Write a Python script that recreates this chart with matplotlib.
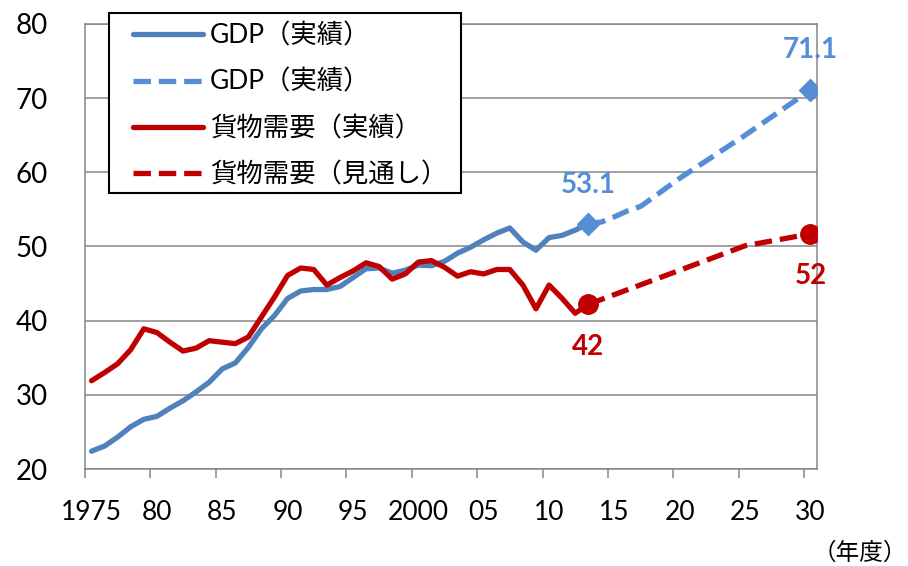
import matplotlib.pyplot as plt
from matplotlib.lines import Line2D
from matplotlib.patches import Rectangle

plt.rcParams['font.family'] = ['Lato', 'Noto Sans CJK JP', 'DejaVu Sans']

# actual values (FY1975-2013)
years = list(range(1975, 2014))
gdp = [22.4, 23.1, 24.3, 25.7, 26.7, 27.1, 28.2, 29.2, 30.4, 31.7,
       33.5, 34.3, 36.4, 38.9, 40.7, 43.0, 44.0, 44.2, 44.2, 44.6,
       45.8, 47.0, 47.1, 46.4, 46.8, 47.5, 47.4, 48.0, 49.1, 49.9,
       50.9, 51.8, 52.5, 50.6, 49.5, 51.2, 51.5, 52.2, 53.1]
freight = [31.9, 33.0, 34.2, 36.1, 38.9, 38.4, 37.1, 35.9, 36.3, 37.3,
           37.1, 36.9, 37.8, 40.5, 43.2, 46.1, 47.1, 46.9, 44.8, 45.8,
           46.7, 47.8, 47.3, 45.6, 46.3, 47.9, 48.1, 47.2, 46.0, 46.6,
           46.3, 46.9, 46.9, 44.8, 41.6, 44.8, 43.0, 41.0, 42.2]

# outlook
gdp_yrs = [2013, 2014, 2015, 2016, 2017, 2020, 2025, 2030]
gdp_proj = [53.1, 53.3, 54.0, 54.8, 55.4, 59.2, 65.0, 71.1]
fr_yrs = [2013, 2020, 2025, 2030]
fr_proj = [42.2, 46.8, 50.1, 51.7]

labels = ['GDP（実績）', 'GDP（実績）', '貨物需要（実績）', '貨物需要（見通し）']
tick_labels = ['1975', '80', '85', '90', '95', '2000', '05', '10', '15', '20', '25', '30']

BLUE = '#4F81BD'
LBLUE = '#558ED5'
RED = '#C00000'
GRAY = '#868686'
DASH = (0, (3.3, 1.5))
LW = 3.8

fig = plt.figure(figsize=(9.08, 5.66), dpi=100)
ax = fig.add_axes([85 / 908, 1 - 469 / 566, (817 - 85) / 908, (469 - 24) / 566])

ax.plot(years, gdp, color=BLUE, lw=LW, solid_capstyle='round', zorder=3)
ax.plot(years, freight, color=RED, lw=LW, solid_capstyle='round', zorder=3)
ax.plot(gdp_yrs, gdp_proj, color=LBLUE, lw=LW, ls=DASH, zorder=3)
ax.plot(fr_yrs, fr_proj, color=RED, lw=LW, ls=DASH, zorder=3)
ax.plot([gdp_yrs[0], gdp_yrs[-1]], [gdp_proj[0], gdp_proj[-1]], 'D',
        color=LBLUE, ms=11, zorder=4)
ax.plot([fr_yrs[0], fr_yrs[-1]], [fr_proj[0], fr_proj[-1]], 'o',
        color=RED, ms=14, zorder=4)

lab = dict(fontsize=20, fontweight='bold', ha='center', va='center')
ax.text(gdp_yrs[0], 58.3, '53.1', color=LBLUE, **lab)
ax.text(gdp_yrs[-1], 76.5, '71.1', color=LBLUE, **lab)
ax.text(fr_yrs[0], 36.5, '42', color=RED, **lab)
ax.text(fr_yrs[-1], 46.0, '52', color=RED, **lab)

ax.set_xlim(1974.5, 2030.5)
ax.set_ylim(20, 80)
ax.set_yticks(range(20, 81, 10))
ax.yaxis.grid(True, color=GRAY, lw=1.1)
ax.set_axisbelow(True)
ax.tick_params(axis='y', length=0, labelsize=20, pad=27)

ax.set_xticks([1974.5 + 5 * k for k in range(12)])
ax.set_xticklabels([])
ax.set_xticks(list(range(1975, 2031, 5)), minor=True)
ax.set_xticklabels(tick_labels, minor=True)
ax.tick_params(axis='x', which='major', length=6.5, width=1.1, color=GRAY)
ax.tick_params(axis='x', which='minor', length=0, labelsize=19, pad=22)

for s in ax.spines.values():
    s.set_color(GRAY)
    s.set_linewidth(1.1)

# legend box drawn separately so its padding can match the original
fig.patches.append(Rectangle((109 / 908, 1 - 193 / 566), (461 - 109) / 908, (193 - 12.7) / 566,
                             transform=fig.transFigure, facecolor='white',
                             edgecolor='black', lw=1.5, zorder=5))
handles = [Line2D([], [], color=BLUE, lw=LW, solid_capstyle='round'),
           Line2D([], [], color=LBLUE, lw=LW, ls=DASH),
           Line2D([], [], color=RED, lw=LW, solid_capstyle='round'),
           Line2D([], [], color=RED, lw=LW, ls=DASH)]
leg = fig.legend(handles, labels, loc='upper left', bbox_to_anchor=(133 / 908, 1 - 23.5 / 566),
                 fontsize=19, frameon=False,
                 handlelength=2.65, handletextpad=0.27, labelspacing=0.8,
                 borderpad=0, borderaxespad=0)
leg.set_zorder(6)

fig.text(907 / 908, 1 - 553 / 566, '（年度）', fontsize=17, ha='right', va='center')

fig.savefig('out.png', dpi=100)
